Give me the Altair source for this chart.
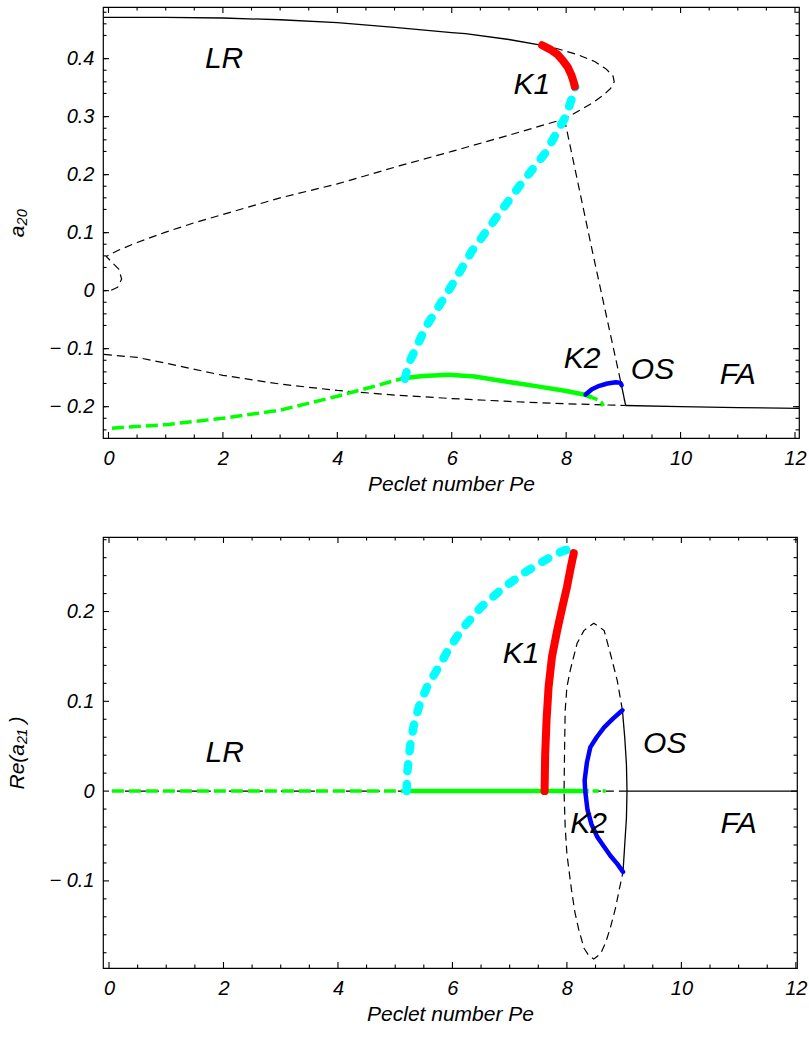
import altair as alt
import pandas as pd

FONT = "Liberation Sans"

# ---------------- top panel: a20 versus Peclet number ----------------
T_STABLE_PE = [-0.08, 0.5, 1, 2, 3, 4, 5, 6, 6.24, 7, 7.58]
T_STABLE_A = [0.471, 0.471, 0.471, 0.470, 0.467, 0.462, 0.454, 0.445, 0.443, 0.433, 0.423]

T_K1_PE = [7.58, 7.72, 7.85, 7.94, 8.03, 8.09, 8.13, 8.15]
T_K1_A = [0.423, 0.416, 0.407, 0.397, 0.385, 0.372, 0.360, 0.352]

T_UNST_PE = [7.58, 7.85, 8.2, 8.5, 8.7, 8.82, 8.84, 8.78, 8.65, 8.45, 8.2, 7.97, 7.0, 6.0,
             5.08, 4.0, 3.0, 2.16, 1.5, 1.0, 0.5, 0.18, -0.04, 0.05, 0.18, 0.23, 0.16, 0.01]
T_UNST_A = [0.423, 0.417, 0.407, 0.395, 0.382, 0.370, 0.360, 0.349, 0.337, 0.323, 0.309, 0.296,
            0.268, 0.240, 0.215, 0.184, 0.160, 0.136, 0.117, 0.101, 0.083, 0.070, 0.059, 0.050,
            0.037, 0.020, 0.006, -0.001]

T_DROP_DASH_PE = [7.97, 8.46, 8.96]
T_DROP_DASH_A = [0.296, 0.067, -0.160]
T_DROP_SOLID_PE = [8.96, 9.04]
T_DROP_SOLID_A = [-0.160, -0.198]

T_FA_PE = [9.04, 10, 11, 12.1]
T_FA_A = [-0.198, -0.200, -0.2015, -0.203]

T_LOW_PE = [-0.08, 0.5, 1, 2, 3, 4, 5, 6, 7, 8, 9.04]
T_LOW_A = [-0.110, -0.115, -0.125, -0.146, -0.161, -0.172, -0.180, -0.186, -0.191, -0.195, -0.198]

T_GDASH_PE = [0.06, 1, 2, 3, 4, 4.6, 5.15]
T_GDASH_A = [-0.237, -0.231, -0.220, -0.206, -0.182, -0.166, -0.151]

T_GSOLID_PE = [5.15, 5.5, 5.95, 6.4, 6.83, 7.5, 8.0, 8.31, 8.45]
T_GSOLID_A = [-0.151, -0.147, -0.145, -0.148, -0.155, -0.165, -0.173, -0.179, -0.184]

T_GDASH2_PE = [8.45, 8.55, 8.62, 8.65]
T_GDASH2_A = [-0.184, -0.188, -0.193, -0.199]

T_BLUE_PE = [8.34, 8.45, 8.58, 8.72, 8.87, 8.95, 8.97]
T_BLUE_A = [-0.179, -0.170, -0.164, -0.160, -0.158, -0.159, -0.163]

T_CYAN_PE = [5.18, 5.25, 5.37, 5.55, 5.78, 6.0, 6.35, 6.8, 7.18, 7.64, 7.99, 8.14, 8.16]
T_CYAN_A = [-0.152, -0.125, -0.100, -0.062, -0.026, 0.009, 0.068, 0.129, 0.180, 0.238, 0.300, 0.343, 0.352]

T_LABELS = ["LR", "K1", "K2", "OS", "FA"]
T_LABEL_PE = [2.02, 7.40, 8.28, 9.51, 11.0]
T_LABEL_A = [0.400, 0.354, -0.118, -0.137, -0.145]

# ---------------- bottom panel: Re(a21) versus Peclet number ----------------
B_ZDASH_PE = [0.05, 9.05]
B_ZDASH_R = [0.0, 0.0]
B_ZSOLID_PE = [9.05, 12.1]
B_ZSOLID_R = [0.0, 0.0]
B_GDASH_PE = [0.05, 5.2]
B_GDASH_R = [0.0, 0.0]
B_GSOLID_PE = [5.2, 8.38]
B_GSOLID_R = [0.0, 0.0]
B_GDASH2_PE = [8.45, 8.68]
B_GDASH2_R = [0.0, 0.0]

B_CYAN_PE = [5.2, 5.21, 5.26, 5.33, 5.43, 5.57, 5.74, 5.95, 6.2, 6.5, 6.9, 7.3, 7.72, 7.95, 8.12]
B_CYAN_R = [0.0, 0.02, 0.05, 0.075, 0.097, 0.118, 0.136, 0.160, 0.183, 0.205, 0.227, 0.245, 0.261, 0.268, 0.270]

B_RED_PE = [7.61, 7.62, 7.645, 7.68, 7.74, 7.83, 7.92, 8.0, 8.07, 8.12]
B_RED_R = [0.0, 0.04, 0.08, 0.116, 0.150, 0.179, 0.205, 0.227, 0.250, 0.265]

B_ELL_DASH_PE = [8.97, 8.88, 8.76, 8.65, 8.47, 8.3, 8.18, 8.06, 8.0, 7.97, 7.96, 7.95, 7.97, 8.0,
                 8.04, 8.08, 8.14, 8.21, 8.3, 8.38, 8.47, 8.59, 8.68, 8.76, 8.85, 8.91, 8.98]
B_ELL_DASH_R = [0.09, 0.123, 0.153, 0.179, 0.187, 0.179, 0.165, 0.135, 0.116, 0.09, 0.05, 0.0,
                -0.04, -0.07, -0.09, -0.11, -0.135, -0.155, -0.175, -0.183, -0.187, -0.181,
                -0.168, -0.152, -0.13, -0.111, -0.09]

B_ELL_SOLID_PE = [8.97, 9.01, 9.04, 9.05, 9.04, 9.01, 8.98]
B_ELL_SOLID_R = [0.09, 0.06, 0.03, 0.0, -0.03, -0.06, -0.09]

B_BLUE_PE = [8.97, 8.81, 8.65, 8.52, 8.41, 8.35, 8.31, 8.32, 8.36, 8.43, 8.53, 8.65, 8.76, 8.88, 8.98]
B_BLUE_R = [0.09, 0.081, 0.071, 0.060, 0.049, 0.032, 0.012, 0.0, -0.021, -0.037, -0.051, -0.062,
            -0.072, -0.081, -0.09]

B_LABELS = ["LR", "K1", "OS", "K2", "FA"]
B_LABEL_PE = [2.02, 7.20, 9.71, 8.38, 11.0]
B_LABEL_R = [0.042, 0.153, 0.053, -0.037, -0.037]

# ---------------- axes ----------------
X_MAJOR = [0, 2, 4, 6, 8, 10, 12]
X_MINOR = [k / 2 for k in range(0, 25) if k % 4 != 0]
TOP_Y_MAJOR = [-0.2, -0.1, 0.0, 0.1, 0.2, 0.3, 0.4]
TOP_Y_MINOR = [round(-0.24 + 0.02 * k, 2) for k in range(37) if k % 5 != 3]
BOT_Y_MAJOR = [-0.1, 0.0, 0.1, 0.2]
BOT_Y_MINOR = [round(-0.18 + 0.02 * k, 2) for k in range(24) if k % 5 != 4]

X_TITLE = "Peclet number Pe"
TOP_Y_TITLE = "a\u2082\u2080"
BOT_Y_TITLE = "Re(a\u2082\u2081 )"

TOP_X_DOMAIN = [-0.096, 12.07]
TOP_Y_DOMAIN = [-0.254, 0.489]
BOT_X_DOMAIN = [-0.105, 12.02]
BOT_Y_DOMAIN = [-0.197, 0.283]

BLACK_DASH = [8, 5]
GREEN_DASH = [12, 5]
CYAN_DASH = [7, 13]

MAJOR_TICK = 12   # centred on the frame and clipped, so half shows inside
MINOR_TICK = 7

Y_LABEL_EXPR = ("datum.value == 0 ? '0' : (datum.value < 0 ? '\u2212 ' + format(-datum.value, '.1f') "
                ": format(datum.value, '.1f'))")


class Panel:
    def __init__(self, xd, yd, ytitle):
        self.xs = alt.Scale(domain=xd, nice=False, zero=False)
        self.ys = alt.Scale(domain=yd, nice=False, zero=False)
        self.xd, self.yd, self.ytitle = xd, yd, ytitle

    def enc(self):
        # the same explicit title everywhere so the shared axis merges cleanly
        return dict(x=alt.X("pe:Q", scale=self.xs, title=X_TITLE),
                    y=alt.Y("v:Q", scale=self.ys, title=self.ytitle))

    def line(self, pe, v, color, width, dash=None, cap="butt"):
        df = pd.DataFrame({"pe": pe, "v": v, "i": list(range(len(pe)))})
        kw = dict(color=color, strokeWidth=width, strokeCap=cap, strokeJoin="round", clip=True)
        if dash:
            kw["strokeDash"] = dash
        return alt.Chart(df).mark_line(**kw).encode(order="i:Q", **self.enc())

    def labels(self, texts, pe, v):
        df = pd.DataFrame({"pe": pe, "v": v, "t": texts})
        return alt.Chart(df).mark_text(font=FONT, fontSize=30, fontStyle="italic", color="black",
                                       align="center", baseline="middle").encode(
            text="t:N", **self.enc())

    def ticks(self, ymaj, ymin):
        """Mirror ticks on all four sides, pointing inward (clipped to the frame)."""
        out = []
        xd, yd = self.xd, self.yd
        for xv, yv, size in [(X_MAJOR, ymaj, MAJOR_TICK), (X_MINOR, ymin, MINOR_TICK)]:
            xdf = pd.DataFrame({"pe": list(xv) * 2, "v": [yd[0]] * len(xv) + [yd[1]] * len(xv)})
            ydf = pd.DataFrame({"pe": [xd[0]] * len(yv) + [xd[1]] * len(yv), "v": list(yv) * 2})
            out.append(alt.Chart(xdf).mark_tick(orient="vertical", size=size, thickness=1.1,
                                                color="black", opacity=1, clip=True).encode(**self.enc()))
            out.append(alt.Chart(ydf).mark_tick(orient="horizontal", size=size, thickness=1.1,
                                                color="black", opacity=1, clip=True).encode(**self.enc()))
        return out

    def axes(self, ymaj):
        df = pd.DataFrame({"pe": [1.0], "v": [0.0]})
        xax = alt.Axis(orient="bottom", values=X_MAJOR, ticks=False, domain=False, grid=False,
                       labelPadding=10, labelOverlap=False, labelExpr="format(datum.value, 'd')",
                       titlePadding=5)
        yax = alt.Axis(orient="left", values=ymaj, ticks=False, domain=False, grid=False,
                       labelPadding=9, labelOverlap=False, labelExpr=Y_LABEL_EXPR, titlePadding=21)
        return alt.Chart(df).mark_point(opacity=0).encode(
            x=alt.X("pe:Q", scale=self.xs, axis=xax, title=X_TITLE),
            y=alt.Y("v:Q", scale=self.ys, axis=yax, title=self.ytitle),
        )


p = Panel(TOP_X_DOMAIN, TOP_Y_DOMAIN, TOP_Y_TITLE)
top_layers = [p.axes(TOP_Y_MAJOR)] + [
    p.line(T_STABLE_PE, T_STABLE_A, "black", 1.3),
    p.line(T_UNST_PE, T_UNST_A, "black", 1.2, BLACK_DASH),
    p.line(T_DROP_DASH_PE, T_DROP_DASH_A, "black", 1.2, BLACK_DASH),
    p.line(T_DROP_SOLID_PE, T_DROP_SOLID_A, "black", 1.3),
    p.line(T_FA_PE, T_FA_A, "black", 1.3),
    p.line(T_LOW_PE, T_LOW_A, "black", 1.2, BLACK_DASH),
    p.line(T_GDASH_PE, T_GDASH_A, "#00ff00", 3.5, GREEN_DASH),
    p.line(T_GSOLID_PE, T_GSOLID_A, "#00ff00", 4.5),
    p.line(T_GDASH2_PE, T_GDASH2_A, "#00ff00", 3.5, [6, 4]),
    p.line(T_BLUE_PE, T_BLUE_A, "#0000ff", 4.5, None, "round"),
    p.line(T_CYAN_PE, T_CYAN_A, "#00ffff", 8.5, CYAN_DASH, "round"),
    p.line(T_K1_PE, T_K1_A, "#ff0000", 8, None, "round"),
    p.labels(T_LABELS, T_LABEL_PE, T_LABEL_A),
] + p.ticks(TOP_Y_MAJOR, TOP_Y_MINOR)
top = alt.layer(*top_layers).properties(width=696, height=431)

p = Panel(BOT_X_DOMAIN, BOT_Y_DOMAIN, BOT_Y_TITLE)
bot_layers = [p.axes(BOT_Y_MAJOR)] + [
    p.line(B_ZDASH_PE, B_ZDASH_R, "black", 1.2, BLACK_DASH),
    p.line(B_ZSOLID_PE, B_ZSOLID_R, "black", 1.3),
    p.line(B_ELL_DASH_PE, B_ELL_DASH_R, "black", 1.2, BLACK_DASH),
    p.line(B_ELL_SOLID_PE, B_ELL_SOLID_R, "black", 1.3),
    p.line(B_GDASH_PE, B_GDASH_R, "#00ff00", 3.5, GREEN_DASH),
    p.line(B_GSOLID_PE, B_GSOLID_R, "#00ff00", 4.5),
    p.line(B_GDASH2_PE, B_GDASH2_R, "#00ff00", 3.5, [6, 4]),
    p.line(B_BLUE_PE, B_BLUE_R, "#0000ff", 4.5, None, "round"),
    p.line(B_CYAN_PE, B_CYAN_R, "#00ffff", 8.5, CYAN_DASH, "round"),
    p.line(B_RED_PE, B_RED_R, "#ff0000", 8, None, "round"),
    p.labels(B_LABELS, B_LABEL_PE, B_LABEL_R),
] + p.ticks(BOT_Y_MAJOR, BOT_Y_MINOR)
bottom = alt.layer(*bot_layers).properties(width=694, height=431)

chart = alt.vconcat(top, bottom, spacing=41).properties(
    padding={"left": 6, "top": 6, "right": 0, "bottom": 0},
    background="white",
).configure_view(stroke="black", strokeWidth=1.2).configure_axis(
    labelFont=FONT, labelFontSize=20, labelFontStyle="italic", labelColor="black",
    titleFont=FONT, titleFontSize=21, titleFontStyle="italic", titleFontWeight="normal",
    titleColor="black",
)

chart.save("out.html", embed_options={"renderer": "svg", "actions": False})
